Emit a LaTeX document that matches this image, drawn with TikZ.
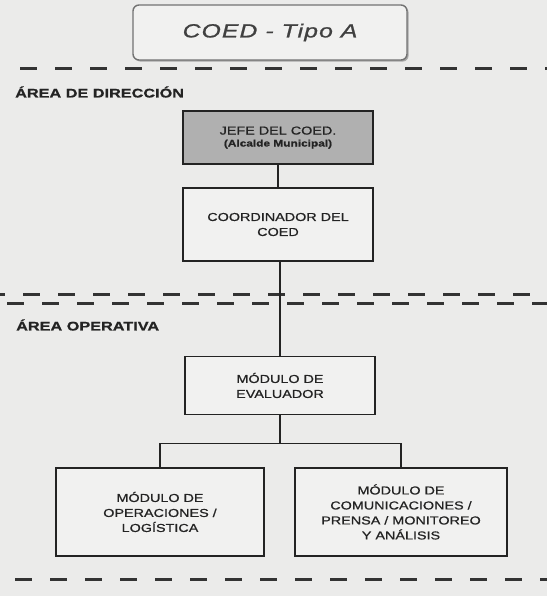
\documentclass[tikz,border=0pt]{standalone}
\usepackage{fontspec}
\setmainfont{Liberation Sans}
\newfontfamily\boxfont[FakeStretch=1.25,FakeBold=0.8]{Liberation Sans}
\newfontfamily\areafont[FakeStretch=1.3,FakeBold=0.8]{Liberation Sans}
\newfontfamily\titlefont[FakeStretch=1.3,LetterSpace=6,FakeBold=1]{Liberation Sans}
\usetikzlibrary{positioning,shadows}
\definecolor{paper}{RGB}{235,235,234}
\definecolor{boxpaper}{RGB}{241,241,240}
\definecolor{headgray}{RGB}{176,176,176}
\definecolor{inkdark}{RGB}{35,35,35}
\tikzset{
  orgbox/.style={draw=inkdark,line width=1.8pt,fill=boxpaper,minimum width=190pt,
    align=center,inner sep=3pt,font=\boxfont\fontsize{11.5}{15}\selectfont,text=inkdark},
  headbox/.style={orgbox,fill=headgray},
  titlebox/.style={draw=black!55,line width=1.4pt,rounded corners=6pt,fill=boxpaper,
    minimum width=274pt,minimum height=55pt,font=\titlefont\itshape\fontsize{19}{22}\selectfont,
    text=black!75,drop shadow={shadow xshift=1.6pt,shadow yshift=-1.6pt,fill=black!60}},
  arealabel/.style={anchor=west,inner sep=0pt,font=\areafont\bfseries\fontsize{12.5}{14}\selectfont,text=inkdark},
  sepline/.style={line width=3pt,draw=black!80,dash pattern=on 17pt off 18pt},
  link/.style={line width=1.5pt,draw=inkdark}
}
\begin{document}
\begin{tikzpicture}[x=1pt,y=-1pt]
  \fill[paper] (0,0) rectangle (547,596);
  \useasboundingbox (0,0) rectangle (547,596);
  % title
  \node[titlebox] (title) at (270,32.5) {COED - Tipo A};
  % area separators
  \draw[sepline] (20,69) -- (547,69);
  \draw[sepline,dash phase=12pt] (0,294) -- (547,294);
  \draw[sepline,dash phase=28pt] (0,303) -- (547,303);
  \draw[sepline] (15,579) -- (547,579);
  \node[arealabel] (dirlabel) at (15,92) {ÁREA DE DIRECCIÓN};
  \node[arealabel] (oplabel) at (16,325) {ÁREA OPERATIVA};
  % boxes
  \node[headbox,minimum height=53pt] (jefe) at (278,137.5)
    {JEFE DEL COED.\\[-3pt]{\bfseries\fontsize{9.5}{11}\selectfont (Alcalde Municipal)}};
  \node[orgbox,minimum height=73pt] (coord) at (278,224.5) {COORDINADOR DEL\\COED};
  \node[orgbox,minimum height=58pt] (eval) at (280,385.5) {MÓDULO DE\\EVALUADOR};
  \node[orgbox,minimum width=208pt,minimum height=88pt] (oper) at (160,512)
    {MÓDULO DE\\OPERACIONES /\\LOGÍSTICA};
  \node[orgbox,minimum width=212pt,minimum height=88pt] (comu) at (401,512)
    {MÓDULO DE\\COMUNICACIONES /\\PRENSA / MONITOREO\\Y ANÁLISIS};
  % links
  \draw[link] (jefe) -- (coord);
  \draw[link] (coord.south -| eval.north) -- (eval.north);
  \draw[link] (eval.south) -- ++(0,28) coordinate (split);
  \draw[link] (oper.north) |- (split) -| (comu.north);
\end{tikzpicture}
\end{document}
